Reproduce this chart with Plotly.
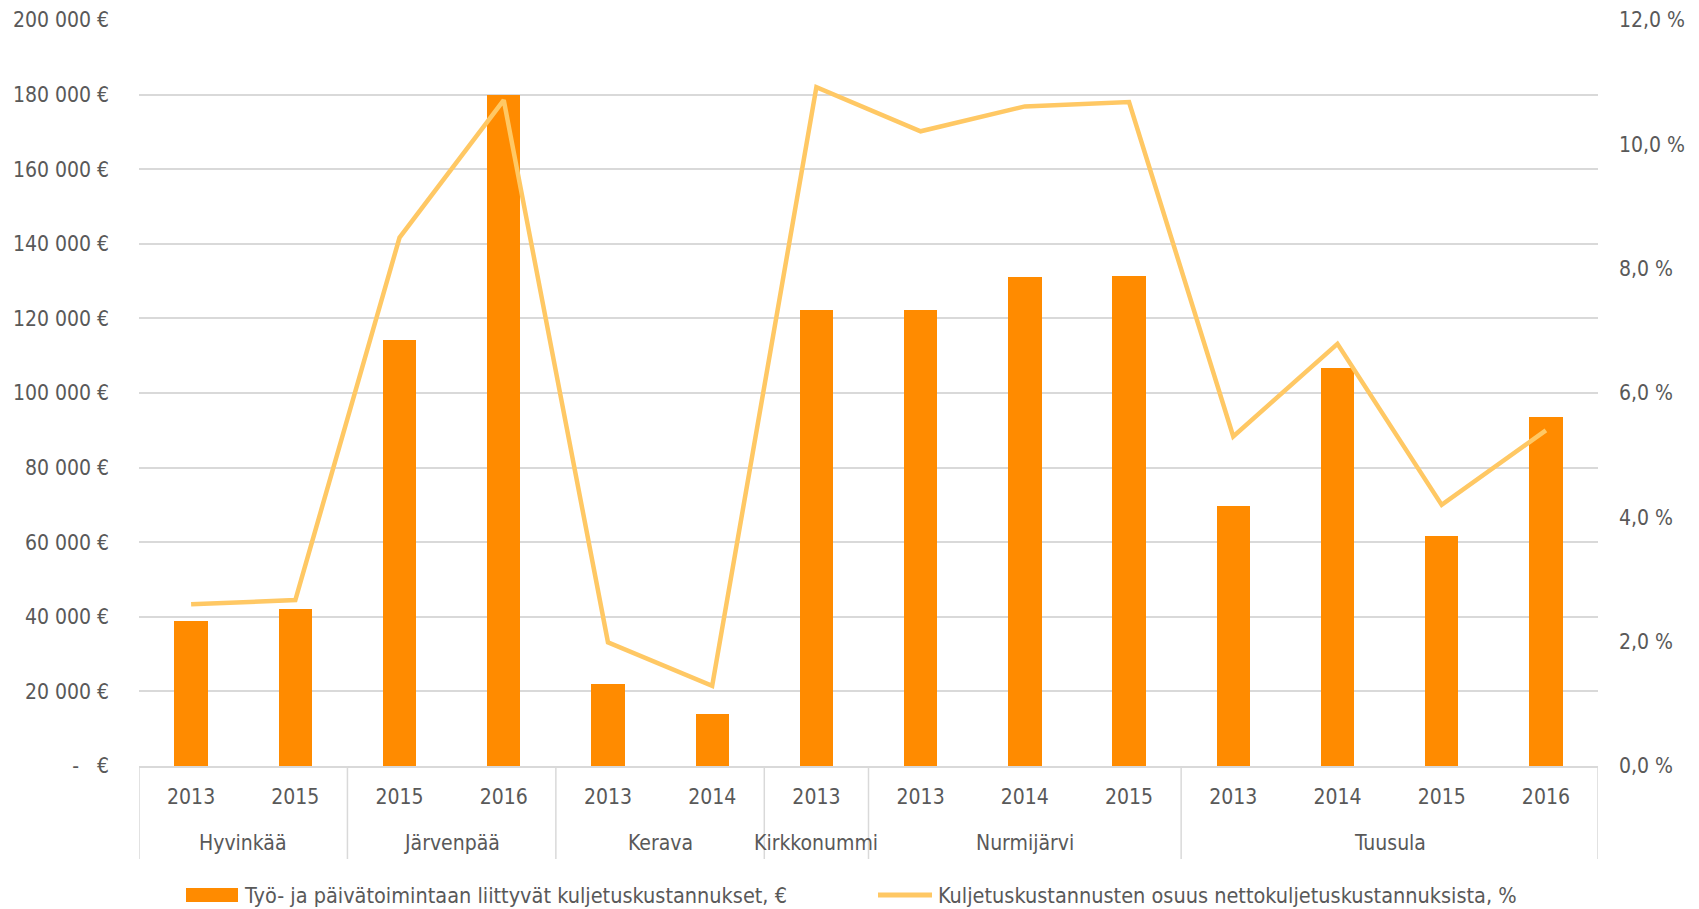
import plotly.graph_objects as go

groups = ["Hyvinkää", "Hyvinkää", "Järvenpää", "Järvenpää", "Kerava", "Kerava",
          "Kirkkonummi", "Nurmijärvi", "Nurmijärvi", "Nurmijärvi",
          "Tuusula", "Tuusula", "Tuusula", "Tuusula"]
years = ["2013", "2015", "2015", "2016", "2013", "2014", "2013",
         "2013", "2014", "2015", "2013", "2014", "2015", "2016"]
costs = [39000, 42200, 114200, 180000, 22100, 14000, 122200,
         122200, 131000, 131300, 69800, 106700, 61600, 93500]
share = [2.60, 2.67, 8.50, 10.71, 1.99, 1.29, 10.92,
         10.21, 10.61, 10.68, 5.30, 6.79, 4.20, 5.40]

bar_name = "Työ- ja päivätoimintaan liittyvät kuljetuskustannukset, €"
line_name = "Kuljetuskustannusten osuus nettokuljetuskustannuksista, %"

left_vals = list(range(0, 200001, 20000))
left_text = ["-   €" if v == 0 else f"{v:,}".replace(",", " ") + " €" for v in left_vals]
right_vals = [0, 2, 4, 6, 8, 10, 12]
right_text = [f"{v:.1f}".replace(".", ",") + " %" for v in right_vals]

FONT = "DejaVu Sans Condensed, Liberation Sans Narrow, sans-serif"
TXT = "#595959"
GRID = "#D9D9D9"
BAR_C = "#FF8B00"
LINE_C = "#FFC864"

W, H = 1699, 909
ML, MR, MT, MB = 131, 109, 12, 151
PW = W - ML - MR
PH = H - MT - MB
PB = H - MB  # plot bottom in figure px


def px(x):
    return (x - ML) / PW


def py(y):
    return (PB - y) / PH


idx = list(range(len(years)))

fig = go.Figure()
fig.add_trace(go.Bar(x=idx, y=costs, name=bar_name, width=0.32,
                     marker=dict(color=BAR_C, line=dict(width=0)), showlegend=False))
fig.add_trace(go.Scatter(x=idx, y=share, yaxis="y2", mode="lines", name=line_name,
                         line=dict(color=LINE_C, width=4.5), showlegend=False))

# group labels and dividers for the two-level category axis
bounds = [-0.5]
spans = []
start = 0
for i in range(1, len(groups) + 1):
    if i == len(groups) or groups[i] != groups[start]:
        spans.append((groups[start], start, i - 1))
        bounds.append(i - 0.5)
        start = i
for name, a, b in spans:
    fig.add_annotation(x=(a + b) / 2, xref="x", y=py(PB + 77), yref="paper", text=name,
                       showarrow=False, font=dict(family=FONT, size=21, color=TXT),
                       yanchor="middle")
for bx in bounds:
    fig.add_shape(type="line", xref="x", yref="paper", x0=bx, x1=bx, y0=0, y1=py(PB + 93),
                  line=dict(color=GRID, width=1.5))

# custom legend
LY = PB + 129
fig.add_shape(type="rect", xref="paper", yref="paper", x0=px(178), x1=px(230),
              y0=py(LY + 7), y1=py(LY - 7), fillcolor=BAR_C, line=dict(width=0))
fig.add_annotation(x=px(234), xref="paper", y=py(LY), yref="paper",
                   text=bar_name, showarrow=False, xanchor="left", yanchor="middle",
                   font=dict(family=FONT, size=21.5, color=TXT))
fig.add_shape(type="line", xref="paper", yref="paper", x0=px(870), x1=px(924),
              y0=py(LY), y1=py(LY), line=dict(color=LINE_C, width=5))
fig.add_annotation(x=px(928), xref="paper", y=py(LY), yref="paper",
                   text=line_name, showarrow=False, xanchor="left", yanchor="middle",
                   font=dict(family=FONT, size=21.5, color=TXT))

fig.update_layout(
    width=W, height=H,
    margin=dict(l=ML, r=MR, t=MT, b=MB, autoexpand=False),
    paper_bgcolor="white", plot_bgcolor="white",
    font=dict(family=FONT, size=21, color=TXT),
    showlegend=False,
    bargap=0,
    xaxis=dict(range=[-0.5, len(years) - 0.5], tickvals=idx, ticktext=years,
               showline=True, linecolor=GRID, linewidth=1.5, ticks="", showgrid=False,
               zeroline=False, automargin=False, ticklabelstandoff=11,
               tickfont=dict(family=FONT, size=21, color=TXT)),
    yaxis=dict(range=[0, 200000], tickvals=left_vals, ticktext=left_text,
               showgrid=True, gridcolor=GRID, gridwidth=1.5, zeroline=False,
               ticks="", ticklabelstandoff=29, automargin=False,
               tickfont=dict(family=FONT, size=21, color=TXT)),
    yaxis2=dict(range=[0, 12], overlaying="y", side="right", tickvals=right_vals,
                ticktext=right_text, showgrid=False, zeroline=False, ticks="",
                ticklabelstandoff=20, automargin=False,
                tickfont=dict(family=FONT, size=21, color=TXT)),
)

fig.write_html("out.html")
